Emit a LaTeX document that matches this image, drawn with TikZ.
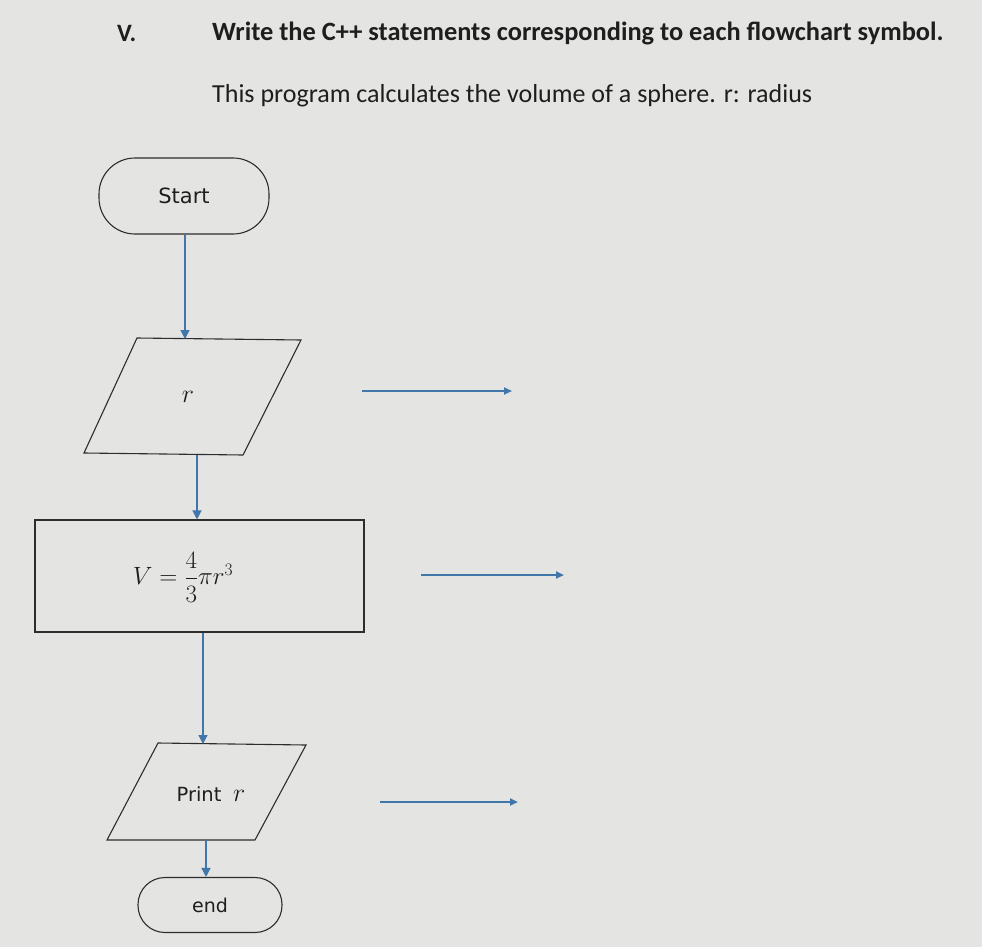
\RequirePackage{fix-cm}
\documentclass[tikz,border=0pt]{standalone}
\usepackage{amsmath}
\usepackage{fontspec}
\setmainfont{Carlito}
\newfontfamily\vfont{DejaVu Sans}
\usetikzlibrary{arrows.meta}
\definecolor{bgc}{RGB}{228,228,226}
\definecolor{arrc}{RGB}{64,118,170}
\definecolor{linec}{RGB}{45,45,45}
\definecolor{txtc}{RGB}{30,30,30}
\tikzset{
  flowline/.style={draw=arrc, line width=1.3pt, -{Triangle[length=9pt,width=9pt]}},
  sideline/.style={draw=arrc, line width=2pt, -{Triangle[length=8pt,width=7pt]}},
  shapeline/.style={draw=linec, line width=1.1pt},
  terminal/.style={shapeline, rounded corners=27pt, minimum height=55pt, inner sep=0pt, font=\vfont\fontsize{19}{22}\selectfont, text=txtc},
  lbl/.style={inner sep=0pt, text=txtc},
}
\begin{document}
\begin{tikzpicture}[x=1pt,y=-1pt]
\fill[bgc] (0,0) rectangle (982,947);
\useasboundingbox (0,0) rectangle (982,947);
% header
\node[lbl, anchor=west, font=\bfseries\fontsize{25}{30}\selectfont] (num) at (117,33) {V.};
\node[lbl, anchor=west, font=\bfseries\fontsize{26.4}{30}\selectfont] (title) at (212,33) {Write the C++ statements corresponding to each flowchart symbol.};
\node[lbl, anchor=west, font=\fontsize{26}{30}\selectfont] (sub) at (212,96) {This program calculates the volume of a sphere. r: radius};
% start
\node[terminal, minimum width=170pt, minimum height=76pt, rounded corners=36pt, font=\vfont\fontsize{21}{24}\selectfont] (start) at (184,196) {Start};
% input parallelogram
\coordinate (p1tl) at (137,338); \coordinate (p1tr) at (301,340);
\coordinate (p1br) at (243,455); \coordinate (p1bl) at (84,453);
\draw[shapeline] (p1tl) -- (p1tr) -- (p1br) -- (p1bl) -- cycle;
\node[lbl, font=\fontsize{26}{30}\selectfont] (inp) at (188,397) {$r$};
\coordinate (p1top) at (185,339); \coordinate (p1bot) at (197,455);
% process
\node[shapeline, minimum width=329pt, minimum height=112pt, inner sep=0pt] (proc) at (199.5,576) {};
\node[lbl, font=\fontsize{25}{30}\selectfont] (formula) at (183,577) {$V=\dfrac{4}{3}\pi r^{3}$};
% output parallelogram
\coordinate (p2tl) at (158,743); \coordinate (p2tr) at (306,745);
\coordinate (p2br) at (255,840); \coordinate (p2bl) at (107,840);
\draw[shapeline] (p2tl) -- (p2tr) -- (p2br) -- (p2bl) -- cycle;
\node[lbl, font=\vfont\fontsize{19.5}{22}\selectfont] (outp) at (211,794) {Print\hspace{0.6em}{\fontsize{26}{30}\selectfont$r$}};
\coordinate (p2top) at (203,744); \coordinate (p2bot) at (206,840);
% end
\node[terminal, minimum width=144pt, minimum height=55pt] (end) at (210,905) {end};
% flow
\draw[flowline] (start.south -| p1top) -- (p1top);
\draw[flowline] (p1bot) -- (p1bot |- proc.north);
\draw[flowline] (proc.south -| p2top) -- (p2top);
\draw[flowline] (p2bot) -- (p2bot |- end.north);
% side arrows
\coordinate (a1s) at (362,391); \coordinate (a1e) at (512,391);
\coordinate (a2s) at (421,575); \coordinate (a2e) at (564,575);
\coordinate (a3s) at (380,802); \coordinate (a3e) at (518,802);
\draw[sideline] (a1s) -- (a1e);
\draw[sideline] (a2s) -- (a2e);
\draw[sideline] (a3s) -- (a3e);
\end{tikzpicture}
\end{document}
